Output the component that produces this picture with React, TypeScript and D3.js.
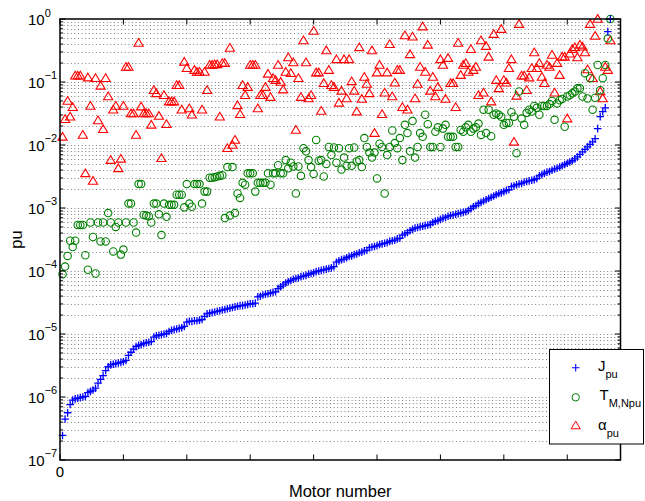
import React, { useRef, useEffect } from 'react';
import * as d3 from 'd3';

// Values are log10(pu), one per motor, motors sorted by J_pu
const jLog = [
  -6.61, -6.35, -6.25, -6.12, -6.05, -6.03, -6.02, -6.01, -6.0, -5.99,
  -5.93, -5.91, -5.89, -5.86, -5.78, -5.72, -5.66, -5.58, -5.52, -5.49,
  -5.48, -5.47, -5.46, -5.45, -5.44, -5.42, -5.34, -5.29, -5.24, -5.2,
  -5.18, -5.17, -5.15, -5.14, -5.13, -5.12, -5.05, -5.03, -5.02, -5.01,
  -5.0, -4.99, -4.96, -4.94, -4.93, -4.92, -4.91, -4.9, -4.88, -4.81,
  -4.8, -4.8, -4.79, -4.79, -4.78, -4.77, -4.72, -4.68, -4.67, -4.66,
  -4.65, -4.64, -4.63, -4.62, -4.61, -4.6, -4.59, -4.58, -4.57, -4.56,
  -4.55, -4.55, -4.54, -4.53, -4.52, -4.52, -4.51, -4.41, -4.4, -4.38,
  -4.37, -4.36, -4.35, -4.34, -4.33, -4.28, -4.25, -4.22, -4.19, -4.17,
  -4.15, -4.13, -4.12, -4.11, -4.09, -4.08, -4.07, -4.05, -4.04, -4.03,
  -4.01, -4.0, -3.99, -3.98, -3.97, -3.96, -3.95, -3.93, -3.86, -3.84,
  -3.82, -3.81, -3.79, -3.77, -3.76, -3.74, -3.73, -3.71, -3.7, -3.68,
  -3.67, -3.63, -3.62, -3.61, -3.6, -3.58, -3.57, -3.56, -3.55, -3.53,
  -3.52, -3.51, -3.49, -3.48, -3.43, -3.41, -3.39, -3.36, -3.34, -3.32,
  -3.31, -3.3, -3.29, -3.28, -3.27, -3.26, -3.23, -3.21, -3.2, -3.18,
  -3.16, -3.15, -3.13, -3.12, -3.11, -3.1, -3.09, -3.08, -3.07, -3.06,
  -3.04, -3.01, -2.98, -2.96, -2.93, -2.91, -2.89, -2.87, -2.85, -2.83,
  -2.81, -2.79, -2.77, -2.76, -2.74, -2.72, -2.71, -2.66, -2.65, -2.63,
  -2.62, -2.61, -2.59, -2.58, -2.57, -2.56, -2.55, -2.53, -2.49, -2.47,
  -2.45, -2.43, -2.42, -2.4, -2.38, -2.37, -2.35, -2.33, -2.31, -2.29,
  -2.27, -2.25, -2.22, -2.19, -2.15, -2.11, -2.07, -2.03, -1.99, -1.95,
  -1.9, -1.74, -1.55, -1.47, -1.41, -0.2, 0.0,
];

const tLog = [
  -4.05, -3.93, -3.76, -3.52, -3.62, -3.52, -3.27, -3.27, -3.27, -3.75,
  -3.98, -3.23, -3.46, -4.04, -3.23, -3.53, -3.23,
  -3.53, -3.08, -3.23, -3.69, -3.3, -3.23, -3.74, -3.66, -3.23, -2.93,
  -2.93, -3.23, -3.39, -2.62, -2.62, -3.11, -3.12, -3.13, -3.23,
  -2.93, -2.93, -3.1, -3.43, -2.93, -3.14, -2.95, -2.95, -2.95, -2.79,
  -2.79, -2.79, -2.99, -2.62, -2.93, -2.98, -2.62, -2.62, -2.62,
  -2.93, -2.74, -2.74, -2.52, -2.52, -2.51, -2.5, -2.49, -2.48, -3.16,
  -2.35, -3.12, -2.35, -3.08, -2.77, -2.84, -2.6, -2.63, -2.45, -2.45,
  -2.45, -2.74,
  -2.6, -2.6, -2.6, -2.6, -2.45, -2.63, -2.45, -2.45, -2.32, -2.45,
  -2.45, -2.24, -2.37, -2.28, -2.34, -2.77, -2.34, -2.49,
  -2.05, -2.1, -2.24, -2.35, -2.46, -1.92, -2.25, -2.24, -2.5, -2.3,
  -2.03, -2.16, -2.04, -2.28, -2.05, -2.39, -2.2, -2.33, -2.05,
  -2.33, -2.04, -2.26, -2.24, -2.35, -1.89, -2.03, -2.12, -2.2, -2.12,
  -2.53, -1.98, -2.03, -2.77, -2.16, -2.03, -1.77, -1.97,
  -2.05, -1.89, -2.24, -1.68, -1.81, -2.1, -1.62, -2.2, -2.03, -1.81,
  -1.87, -1.52, -1.67, -2.03,
  -2.03, -1.79, -1.72, -2.03, -1.74, -1.68, -1.87, -1.87, -1.87, -2.03,
  -2.03, -1.76, -1.79, -1.72, -1.68, -1.79, -1.74, -1.72, -1.66, -1.84,
  -1.44, -1.81, -1.44, -1.86, -1.52, -1.5, -1.52, -1.55, -1.68, -1.65,
  -1.65, -1.48, -1.55, -2.13, -1.15, -1.58, -1.68,
  -1.49, -1.44, -1.47, -1.38, -1.41, -1.52, -1.38, -1.38, -1.38, -1.35,
  -1.3, -1.6, -1.34, -1.29, -1.27, -1.71, -1.23,
  -1.21, -1.18, -1.15, -1.1, -1.1, -1.23, -0.86, -1.26, -0.94, -1.44,
  -1.25, -0.73, -1.13, -0.94, -0.73, -0.31, 0.0,
];

const aLog = [
  -1.87, -1.59, -1.3, -1.55, -1.4, -0.9, -0.9, -0.9, -1.84, -2.45,
  -0.93, -1.38, -2.57, -0.94, -1.61, -1.06,
  -1.75, -0.94, -1.23, -2.24, -1.44, -1.38, -2.37, -2.22, -1.38, -0.76,
  -0.76, -1.5, -1.5, -1.84, -0.38, -1.39, -1.5, -1.5, -1.5,
  -1.68, -1.13, -1.18, -1.54, -2.21, -1.21, -1.67, -1.31, -1.31, -1.31,
  -1.05, -1.05, -1.44, -0.68, -0.78, -1.42, -1.52, -0.81, -0.84, -0.84,
  -1.44, -0.84, -1.13, -0.73, -0.73, -0.72, -0.72, -1.55, -0.7, -0.7,
  -2.05, -0.46, -2.0, -1.92, -1.37, -1.51, -1.05, -1.21, -1.08, -0.73,
  -0.73, -0.73, -1.42,
  -1.21, -1.21, -1.08, -0.87, -1.24, -0.94, -0.97, -0.73, -1.0, -1.12,
  -0.84, -0.61, -0.86, -0.69, -1.76, -0.94, -1.24,
  -0.34, -0.69, -1.26, -1.21, -0.19, -0.85, -0.85, -1.46, -1.02, -0.5,
  -0.81, -1.05, -1.08, -0.64, -1.33, -1.14, -0.64, -1.26, -0.64,
  -0.99, -1.14, -1.47, -0.45, -1.27, -0.92, -1.03, -1.18, -0.5, -1.81,
  -0.85, -0.73, -1.51, -1.17, -0.85, -0.4, -1.23, -1.01, -0.81, -0.81,
  -1.4, -0.26, -1.44, -0.56, -0.28, -1.26, -1.03, -0.76, -0.12, -0.84,
  -0.41, -1.14, -0.92, -1.23, -1.08, -0.64, -0.73, -1.27, -0.62,
  -1.02, -1.02, -1.4, -0.38, -0.89, -0.73, -0.7, -0.84, -0.48, -0.81,
  -0.76, -1.21, -0.34, -1.17, -0.43, -0.6, -1.31, -0.24, -0.97, -1.1,
  -0.16, -0.97, -1.01, -0.78, -0.64, -1.95, -1.22, -0.08, -0.9, -0.9,
  -1.13, -0.93, -0.78, -0.53, -0.78, -0.7, -0.92, -1.02, -0.73, -0.76,
  -0.57, -1.17, -0.7, -0.89, -0.6, -0.6, -1.58, -0.55, -0.48, -0.45,
  -0.61, -0.41, -0.44, -0.53, -0.8, -0.08, -0.94, -0.27, 0.0, -1.15,
  -1.26, -0.76, -0.81, -0.34,
];

const yExps = [0, -1, -2, -3, -4, -5, -6, -7];
const xTicks = [0, 25, 50, 75, 100, 125, 150, 175, 200];
const xTickLabels = ['0'];

const W = 645;
const H = 501;
const m = { left: 60, right: 620.5, top: 19, bottom: 460 };

const crossPath = 'M-3.8,0H3.8M0,-3.8V3.8';
const triPath = 'M0,-4.4L4.6,3.3L-4.6,3.3Z';

export default function App() {
  const ref = useRef<SVGSVGElement>(null);

  useEffect(() => {
    const svg = d3.select(ref.current);
    svg.selectAll('*').remove();

    const x = d3.scaleLinear().domain([0, 221]).range([m.left, m.right]);
    const y = d3.scaleLog().domain([1e-7, 1]).range([m.bottom, m.top]);
    const font = 'Liberation Sans, Arial, Helvetica, sans-serif';

    // dotted y grid, major and minor
    const gridVals: number[] = [];
    for (let e = -7; e < 0; e++) {
      for (let k = 1; k <= 9; k++) gridVals.push(k * Math.pow(10, e));
    }
    svg.append('g')
      .selectAll('line')
      .data(gridVals.filter(v => v > 1e-7))
      .join('line')
      .attr('x1', m.left)
      .attr('x2', m.right)
      .attr('y1', d => Math.round(y(d)) + 0.5)
      .attr('y2', d => Math.round(y(d)) + 0.5)
      .attr('stroke', '#808080')
      .attr('stroke-width', 1)
      .attr('stroke-dasharray', '1,2.6');

    // data
    const idx = (arr: number[]) => arr.map((v, i) => ({ i: i + 1, v: Math.pow(10, v) }));

    svg.append('g')
      .selectAll('path')
      .data(idx(aLog))
      .join('path')
      .attr('transform', d => `translate(${x(d.i)},${y(d.v)})`)
      .attr('d', triPath)
      .attr('stroke', '#ff0000')
      .attr('stroke-width', 1.1)
      .attr('fill', 'none');

    svg.append('g')
      .selectAll('circle')
      .data(idx(tLog))
      .join('circle')
      .attr('cx', d => x(d.i))
      .attr('cy', d => y(d.v))
      .attr('r', 3.7)
      .attr('stroke', '#008000')
      .attr('stroke-width', 1.1)
      .attr('fill', 'none');

    svg.append('g')
      .selectAll('path')
      .data(idx(jLog))
      .join('path')
      .attr('transform', d => `translate(${x(d.i)},${y(d.v)})`)
      .attr('d', crossPath)
      .attr('stroke', '#0000ff')
      .attr('stroke-width', 1.3)
      .attr('fill', 'none');

    // ticks (inside, on all four sides)
    const ticks = svg.append('g').attr('stroke', '#000').attr('stroke-width', 1);
    gridVals.concat([1]).forEach(v => {
      const len = Math.abs(Math.log10(v) - Math.round(Math.log10(v))) < 1e-9 ? 5.5 : 3;
      const yy = y(v);
      ticks.append('line').attr('x1', m.left).attr('x2', m.left + len).attr('y1', yy).attr('y2', yy);
      ticks.append('line').attr('x1', m.right).attr('x2', m.right - len).attr('y1', yy).attr('y2', yy);
    });
    xTicks.forEach(t => {
      const xx = x(t);
      ticks.append('line').attr('x1', xx).attr('x2', xx).attr('y1', m.bottom).attr('y2', m.bottom - 5.5);
      ticks.append('line').attr('x1', xx).attr('x2', xx).attr('y1', m.top).attr('y2', m.top + 5.5);
    });

    // axes box
    svg.append('rect')
      .attr('x', m.left)
      .attr('y', m.top)
      .attr('width', m.right - m.left)
      .attr('height', m.bottom - m.top)
      .attr('fill', 'none')
      .attr('stroke', '#000')
      .attr('stroke-width', 1.5);

    // y tick labels 10^e
    yExps.forEach(e => {
      const t = svg.append('text')
        .attr('x', 28)
        .attr('y', y(Math.pow(10, e)) + 6)
        .attr('font-family', font)
        .attr('font-size', 15)
        .attr('fill', '#000');
      t.append('tspan').text('10');
      t.append('tspan')
        .attr('dy', e === 0 ? -8 : -9)
        .attr('font-size', 11)
        .text(e === 0 ? '0' : `\u2212${-e}`);
    });

    xTickLabels.forEach((lab, i) => {
      svg.append('text')
        .attr('x', x(xTicks[i]))
        .attr('y', 477)
        .attr('text-anchor', 'middle')
        .attr('font-family', font)
        .attr('font-size', 15)
        .text(lab);
    });

    svg.append('text')
      .attr('x', (m.left + m.right) / 2)
      .attr('y', 497)
      .attr('text-anchor', 'middle')
      .attr('font-family', font)
      .attr('font-size', 16.5)
      .text('Motor number');

    svg.append('text')
      .attr('transform', `translate(21.5,${(m.top + m.bottom) / 2}) rotate(-90)`)
      .attr('text-anchor', 'middle')
      .attr('font-family', font)
      .attr('font-size', 16.5)
      .text('pu');

    // legend
    const lg = svg.append('g');
    lg.append('rect')
      .attr('x', 549.5).attr('y', 349.5).attr('width', 94).attr('height', 94.5)
      .attr('fill', '#fff').attr('stroke', '#000').attr('stroke-width', 1);
    lg.append('path').attr('d', crossPath).attr('transform', 'translate(575.7,367.7)')
      .attr('stroke', '#0000ff').attr('stroke-width', 1.1).attr('fill', 'none');
    lg.append('circle').attr('cx', 575.7).attr('cy', 397.3).attr('r', 3.7)
      .attr('stroke', '#008000').attr('fill', 'none');
    lg.append('path').attr('d', triPath).attr('transform', 'translate(575.7,425.5)')
      .attr('stroke', '#ff0000').attr('fill', 'none');

    const entry = (yy: number, main: string, sub: string, dx: number) => {
      const t = lg.append('text').attr('x', dx).attr('y', yy)
        .attr('font-family', font).attr('font-size', 15);
      t.append('tspan').text(main);
      t.append('tspan').attr('dy', 7).attr('font-size', 11).text(sub);
    };
    entry(370.5, 'J', 'pu', 598);
    entry(400, 'T', 'M,Npu', 599.5);
    entry(430, '\u03b1', 'pu', 598);
  }, []);

  return (
    <svg
      ref={ref}
      width={W}
      height={H}
      style={{ position: 'absolute', left: 0, top: 0, background: '#fff' }}
    />
  );
}
